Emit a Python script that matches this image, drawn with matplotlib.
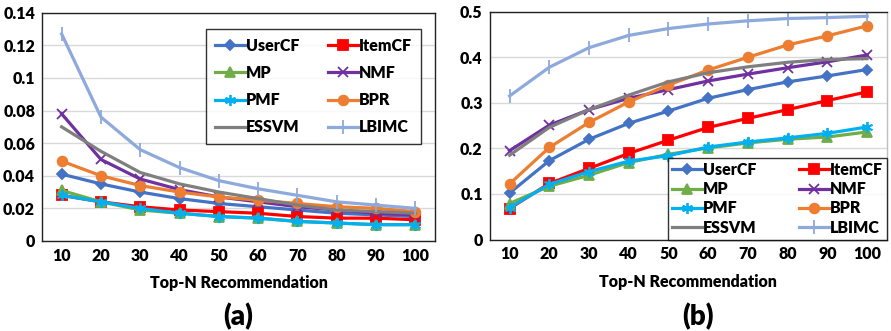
import matplotlib
matplotlib.use("Agg")
import matplotlib.pyplot as plt

plt.rcParams['font.family'] = ['Lato', 'DejaVu Sans']
plt.rcParams['font.weight'] = 'heavy'

top_n = [10, 20, 30, 40, 50, 60, 70, 80, 90, 100]
methods = ["UserCF", "ItemCF", "MP", "NMF", "PMF", "BPR", "ESSVM", "LBIMC"]

# panel (a)
a_usercf = [0.041, 0.035, 0.030, 0.026, 0.023, 0.021, 0.019, 0.017, 0.016, 0.015]
a_itemcf = [0.028, 0.024, 0.021, 0.019, 0.018, 0.017, 0.015, 0.014, 0.014, 0.013]
a_mp     = [0.031, 0.024, 0.019, 0.017, 0.015, 0.014, 0.012, 0.011, 0.010, 0.010]
a_nmf    = [0.078, 0.050, 0.038, 0.0315, 0.027, 0.024, 0.021, 0.019, 0.017, 0.016]
a_pmf    = [0.028, 0.024, 0.020, 0.017, 0.015, 0.014, 0.012, 0.011, 0.010, 0.010]
a_bpr    = [0.049, 0.040, 0.034, 0.030, 0.027, 0.025, 0.023, 0.021, 0.020, 0.018]
a_essvm  = [0.070, 0.055, 0.042, 0.035, 0.030, 0.026, 0.022, 0.019, 0.018, 0.017]
a_lbimc  = [0.127, 0.076, 0.056, 0.045, 0.037, 0.032, 0.028, 0.024, 0.022, 0.020]

# panel (b)
b_usercf = [0.102, 0.173, 0.220, 0.255, 0.282, 0.310, 0.329, 0.346, 0.359, 0.373]
b_itemcf = [0.068, 0.123, 0.156, 0.189, 0.218, 0.246, 0.266, 0.285, 0.305, 0.324]
b_mp     = [0.079, 0.117, 0.141, 0.169, 0.187, 0.201, 0.212, 0.220, 0.225, 0.236]
b_nmf    = [0.195, 0.251, 0.285, 0.310, 0.329, 0.348, 0.363, 0.377, 0.390, 0.405]
b_pmf    = [0.070, 0.121, 0.149, 0.172, 0.184, 0.203, 0.214, 0.223, 0.233, 0.247]
b_bpr    = [0.122, 0.202, 0.257, 0.302, 0.339, 0.372, 0.400, 0.427, 0.447, 0.469]
b_essvm  = [0.185, 0.246, 0.285, 0.317, 0.346, 0.366, 0.379, 0.389, 0.395, 0.397]
b_lbimc  = [0.315, 0.378, 0.421, 0.448, 0.463, 0.473, 0.480, 0.485, 0.487, 0.490]

a_yticks = [0, 0.02, 0.04, 0.06, 0.08, 0.1, 0.12, 0.14]
a_ylabels = ["0", "0.02", "0.04", "0.06", "0.08", "0.1", "0.12", "0.14"]
b_yticks = [0, 0.1, 0.2, 0.3, 0.4, 0.5]
b_ylabels = ["0", "0.1", "0.2", "0.3", "0.4", "0.5"]

colors = ["#4472C4", "#FF0000", "#70AD47", "#7030A0", "#00B0F0", "#ED7D31", "#7F7F7F", "#8EA9DB"]
markers = ["D", "s", "^", "x", (6, 2, 0), "o", None, "|"]
msizes = [5, 7, 7, 7, 8, 7, 0, 10]

a_data = [a_usercf, a_itemcf, a_mp, a_nmf, a_pmf, a_bpr, a_essvm, a_lbimc]
b_data = [b_usercf, b_itemcf, b_mp, b_nmf, b_pmf, b_bpr, b_essvm, b_lbimc]

FS = 11.5

fig = plt.figure(figsize=(8.91, 3.31), dpi=100)
ax1 = fig.add_axes([0.0471, 0.272, 0.4411, 0.6896])
ax2 = fig.add_axes([0.5496, 0.2764, 0.4459, 0.6883])

def draw(ax, data, yticks, ylabels, ylim):
    lines = []
    for vals, c, m, ms, lab in zip(data, colors, markers, msizes, methods):
        ln, = ax.plot(top_n, vals, color=c, lw=2.3, marker=m, ms=ms, mec=c, mfc=c,
                      mew=1.3, label=lab)
        lines.append(ln)
    ax.set_xlim(5, 105)
    ax.set_ylim(*ylim)
    ax.set_xticks(top_n)
    ax.set_xticklabels([str(v) for v in top_n], fontsize=FS, fontweight='heavy')
    ax.set_yticks(yticks)
    ax.set_yticklabels(ylabels, fontsize=FS, fontweight='heavy')
    ax.tick_params(length=0, pad=5)
    ax.grid(axis='y', color='#D9D9D9', lw=1)
    ax.set_axisbelow(True)
    for s in ax.spines.values():
        s.set_color('#222222')
        s.set_linewidth(1.0)
    ax.set_xlabel("Top-N Recommendation", fontsize=FS, fontweight='heavy', labelpad=8)
    # row-major legend order for 2 columns
    order = [0, 2, 4, 6, 1, 3, 5, 7]
    return [lines[i] for i in order], [methods[i] for i in order]

h1, l1 = draw(ax1, a_data, a_yticks, a_ylabels, (0, 0.14))
h2, l2 = draw(ax2, b_data, b_yticks, b_ylabels, (0, 0.5))
ax2.spines['right'].set_color('#BFBFBF')

leg1 = ax1.legend(h1, l1, ncol=2, loc='upper left', bbox_to_anchor=(0.417, 0.9286, 0.547, 0.0),
                  mode='expand', borderaxespad=0, frameon=True, fancybox=False,
                  edgecolor='black', handlelength=1.9, handletextpad=0.05,
                  labelspacing=0.7, borderpad=0.55, columnspacing=1.0,
                  prop={'weight': 'heavy', 'size': FS})
leg1.get_frame().set_linewidth(1.0)
leg2 = ax2.legend(h2, l2, ncol=2, loc='lower left', bbox_to_anchor=(0.449, 0.0, 0.551, 0.0),
                  mode='expand', borderaxespad=0, frameon=True, fancybox=False,
                  edgecolor='black', handlelength=1.9, handletextpad=0.05,
                  labelspacing=0.2, borderpad=0.25, columnspacing=1.0,
                  prop={'weight': 'heavy', 'size': FS})
leg2.get_frame().set_linewidth(1.0)

fig.text(0.267, 0.045, "(a)", fontsize=20, fontweight='heavy', ha='center', va='center')
fig.text(0.783, 0.045, "(b)", fontsize=20, fontweight='heavy', ha='center', va='center')

fig.savefig("out.png", dpi=100)
